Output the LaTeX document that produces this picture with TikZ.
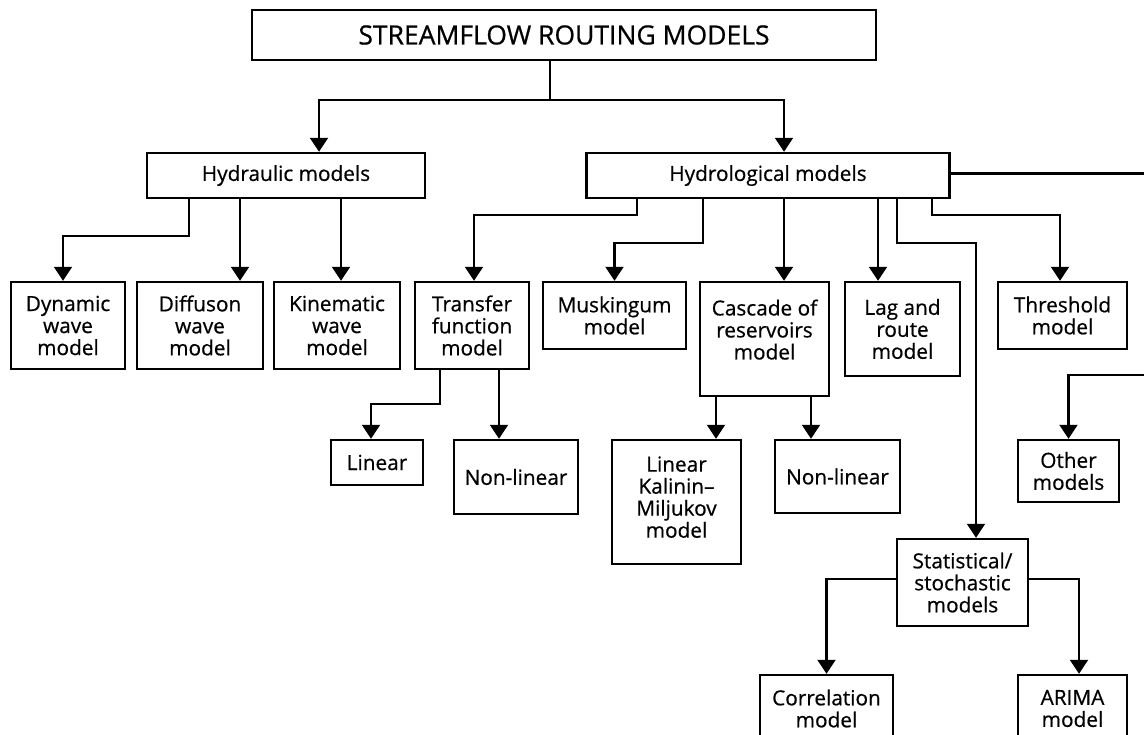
\documentclass[tikz,border=0pt]{standalone}
\usepackage{fontspec}
\setmainfont{Open Sans}[UprightFeatures={FakeBold=0.6}]
\usepackage{tikz}
\usetikzlibrary{arrows.meta}
\tikzstyle{header} = [rectangle, minimum width=624pt, minimum height=50pt, text centered, draw=black, fill=white, line width=2.4pt, font=\fontsize{26.5}{30}\selectfont]
\tikzstyle{process} = [rectangle, minimum width=114pt, minimum height=87pt, align=center, draw=black, fill=white, line width=2.4pt, inner sep=0pt, font=\fontsize{20.8}{22}\selectfont]
\tikzstyle{arrow} = [line width=2.1pt,->,>={Triangle[length=14pt,width=18pt]}]
\tikzstyle{connector} = [line width=2.1pt]

\begin{document}
\begin{tikzpicture}[node distance=150pt]
	\useasboundingbox (0,0) rectangle (1144pt,-735pt);
	\node (start) [header] at (564pt,-35pt) {STREAMFLOW ROUTING MODELS};
	\node (hydra) [process, below of=start, xshift=-278pt, yshift=9.5pt, minimum width=278pt, minimum height=45pt] {Hydraulic models};
	\node (hydro) [process, right of=hydra, xshift=332pt, minimum width=363pt, minimum height=45pt] {Hydrological models};

	\node (dyn) [process, below of=hydra, xshift=-218pt] {Dynamic\\wave\\model};
	\node (dif) [process, right of=dyn, xshift=-18pt, minimum width=126pt] {Diffuson\\wave\\model};
	\node (kin) [process, right of=dif, xshift=-13pt, minimum width=126pt] {Kinematic\\wave\\model};
	\node (trans) [process, right of=kin, xshift=-15pt] {Transfer\\function\\model};
	\node (musk) [process, right of=trans, xshift=-7.5pt, yshift=10pt, minimum width=143pt, minimum height=67pt] {Muskingum\\model};
	\node (casc) [process, right of=musk, yshift=-23.5pt, minimum width=129pt, minimum height=114pt, text depth=19pt] {Cascade of\\reservoirs\\model};
	\node (lag) [process, right of=casc, xshift=-12pt, yshift=10pt, minimum width=115pt, minimum height=94pt] {Lag and\\route\\model};
	\node (thresh) [process, right of=lag, xshift=10pt, yshift=13.5pt, minimum width=129pt, minimum height=67pt] {Threshold\\model};

	\node (lin) [process, below of=trans, xshift=-95pt, yshift=13pt, minimum width=92pt, minimum height=45pt] {Linear};
	\node (nonlin1) [process, right of=lin, xshift=-11pt, yshift=-14.5pt, minimum width=124pt, minimum height=74pt] {Non-linear};
	\node (kal) [process, right of=nonlin1, xshift=10.5pt, yshift=-25pt, minimum width=129pt, minimum height=124pt, text depth=10pt] {Linear\\Kalinin--\\Miljukov\\model};
	\node (nonlin2) [process, right of=kal, xshift=11pt, yshift=25.5pt, minimum width=125pt, minimum height=73pt] {Non-linear};
	\node (other) [process, below of=thresh, xshift=6pt, yshift=-5.5pt, minimum width=101pt, minimum height=62pt] {Other\\models};

	\node (stat) [process, below of=lag, xshift=60pt, yshift=-103.5pt, minimum width=131pt] {Statistical/\\stochastic\\models};
	\node (corr) [process, below of=stat, xshift=-136pt, yshift=24pt, minimum width=133pt, minimum height=67pt] {Correlation\\model};
	\node (arima) [process, right of=corr, xshift=96pt, minimum width=109pt, minimum height=67pt] {ARIMA\\model};

	\coordinate (split) at ([xshift=-14pt,yshift=-39pt]start.south);
	\draw [connector] ([xshift=-14pt]start.south) -- (split);
	\draw [arrow] (split) -| ([xshift=33pt]hydra.north);
	\draw [arrow] (split) -| ([xshift=16pt]hydro.north);

	\draw [arrow] ([xshift=-97pt]hydra.south) -- ++(0,-37pt) -| ([xshift=-5pt]dyn.north);
	\draw [arrow] ([xshift=-46pt]hydra.south) -- ([xshift=-46pt]hydra.south |- dif.north);
	\draw [arrow] ([xshift=55pt]hydra.south) -- ([xshift=55pt]hydra.south |- kin.north);

	\draw [arrow] ([xshift=-131pt]hydro.south) -- ++(0,-16pt) -| ([xshift=2pt]trans.north);
	\draw [arrow] ([xshift=-65pt]hydro.south) -- ++(0,-44pt) -| (musk.north);
	\draw [arrow] ([xshift=16pt]hydro.south) -- ([xshift=16pt]hydro.south |- casc.north);
	\draw [arrow] ([xshift=110pt]hydro.south) -- ([xshift=110pt]hydro.south |- lag.north);
	\draw [arrow] ([xshift=129pt]hydro.south) -- ++(0,-44pt) -| ([xshift=13.5pt]stat.north);
	\draw [arrow] ([xshift=164pt]hydro.south) -- ++(0,-16pt) -| ([xshift=-2.5pt]thresh.north);
	\coordinate (rim) at ([xshift=100pt,yshift=64pt]other.north);
	\draw [arrow] ([yshift=2pt]hydro.east) -| (rim) -| (other.north);

	\draw [arrow] ([xshift=-32pt]trans.south) -- ++(0,-34pt) -| ([xshift=-6pt]lin.north);
	\draw [arrow] ([xshift=27pt]trans.south) -- ([xshift=27pt]trans.south |- nonlin1.north);
	\draw [arrow] ([xshift=-48.5pt]casc.south) -- ([xshift=-48.5pt]casc.south |- kal.north);
	\draw [arrow] ([xshift=46.5pt]casc.south) -- ([xshift=46.5pt]casc.south |- nonlin2.north);

	\draw [arrow] ([yshift=3.5pt]stat.west) -| (corr.north);
	\draw [arrow] ([yshift=3.5pt]stat.east) -| ([xshift=6.5pt]arima.north);
\end{tikzpicture}
\end{document}
